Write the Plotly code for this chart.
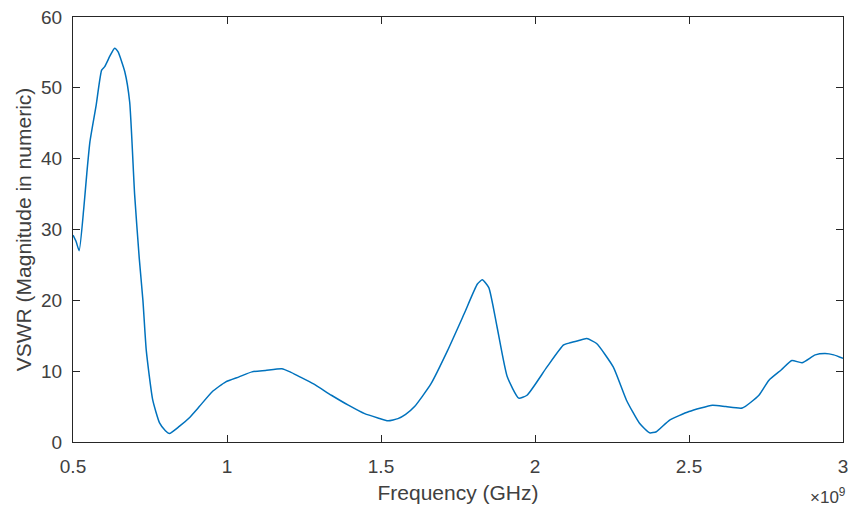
import plotly.graph_objects as go

# Frequency in GHz (axis shows x10^9 Hz)
freq = [0.500, 0.510, 0.520, 0.535, 0.545, 0.555, 0.575, 0.593, 0.603, 0.620,
        0.635, 0.646, 0.668, 0.684, 0.700, 0.715, 0.727, 0.738, 0.759, 0.781,
        0.800, 0.813, 0.845, 0.877, 0.910, 0.952, 0.996, 1.039, 1.081, 1.125,
        1.178, 1.205, 1.232, 1.281, 1.339, 1.394, 1.447, 1.490, 1.523, 1.555,
        1.580, 1.609, 1.662, 1.716, 1.770, 1.813, 1.829, 1.850, 1.877, 1.910,
        1.947, 1.974, 2.039, 2.093, 2.114, 2.140, 2.168, 2.200, 2.254, 2.297,
        2.340, 2.372, 2.394, 2.437, 2.500, 2.576, 2.620, 2.673, 2.727, 2.759,
        2.800, 2.834, 2.867, 2.910, 2.942, 2.970, 3.000]
vswr = [29.2, 28.3, 27.0, 33.0, 38.0, 42.4, 47.5, 52.5, 53.0, 54.5,
        55.6, 55.1, 52.3, 48.0, 35.0, 26.0, 20.0, 12.9, 5.9, 2.7,
        1.6, 1.2, 2.2, 3.4, 5.0, 7.1, 8.5, 9.2, 9.9, 10.1,
        10.35, 9.9, 9.3, 8.2, 6.6, 5.2, 4.0, 3.4, 3.0, 3.3,
        3.9, 5.0, 8.2, 12.9, 18.1, 22.3, 22.9, 21.8, 16.2, 9.2,
        6.2, 6.6, 10.6, 13.7, 14.0, 14.3, 14.6, 13.9, 10.6, 5.9,
        2.6, 1.3, 1.45, 3.1, 4.3, 5.2, 5.0, 4.8, 6.6, 8.7,
        10.2, 11.5, 11.2, 12.3, 12.5, 12.3, 11.8]

x_ticks = [0.5, 1, 1.5, 2, 2.5, 3]
x_tick_labels = ["0.5", "1", "1.5", "2", "2.5", "3"]
y_ticks = [0, 10, 20, 30, 40, 50, 60]

FONT = "Liberation Sans, Arial, Helvetica, sans-serif"
TXT = "#262626"
LBL = "#404040"

fig = go.Figure()
fig.add_trace(go.Scatter(x=freq, y=vswr, mode="lines",
                         line=dict(color="#0072BD", width=1.5, shape="spline", smoothing=0.5),
                         showlegend=False, hoverinfo="skip"))

axis_common = dict(showline=True, linecolor=TXT, linewidth=1, mirror="ticks",
                   ticks="inside", ticklen=7, tickcolor=TXT, showgrid=False,
                   zeroline=False, tickfont=dict(family=FONT, size=19, color=LBL))

fig.update_layout(
    width=855, height=508,
    margin=dict(l=73, r=7, t=15, b=66),
    paper_bgcolor="white", plot_bgcolor="white",
    font=dict(family=FONT, color=TXT),
    xaxis=dict(range=[0.5, 3], tickvals=x_ticks, ticktext=x_tick_labels,
               ticklabelstandoff=7,
               title=dict(text="Frequency (GHz)", font=dict(family=FONT, size=21, color=LBL),
                          standoff=9),
               **axis_common),
    yaxis=dict(range=[0, 60], tickvals=y_ticks, ticklabelstandoff=6,
               title=dict(text="VSWR (Magnitude in numeric)",
                          font=dict(family=FONT, size=21, color=LBL), standoff=3),
               **axis_common),
    annotations=[dict(text="×10<sup>9</sup>", xref="paper", yref="paper",
                      x=1.007, y=-0.097, xanchor="right", yanchor="top", showarrow=False,
                      font=dict(family=FONT, size=17, color=LBL))],
)

fig.write_html("out.html", config={"displayModeBar": False, "staticPlot": True},
               post_script="document.body.style.margin='0';document.body.style.padding='0';")
